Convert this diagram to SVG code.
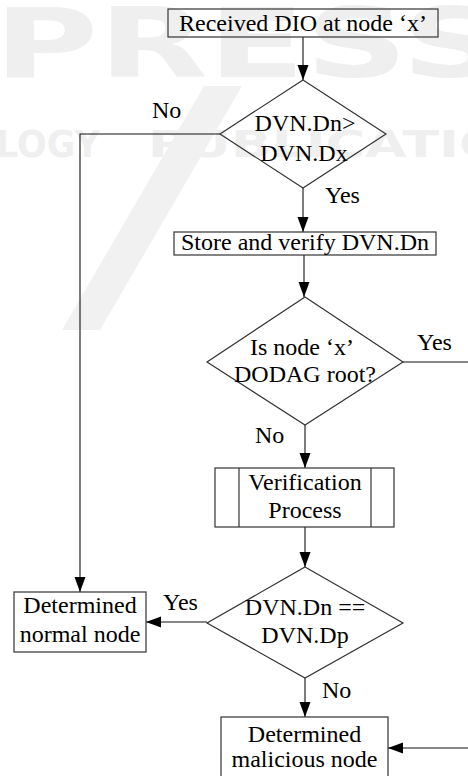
<svg xmlns="http://www.w3.org/2000/svg" width="468" height="776" viewBox="0 0 468 776">
  <defs>
    <marker id="arrow" markerUnits="userSpaceOnUse" markerWidth="16" markerHeight="12" refX="15" refY="5.5" orient="auto">
      <path d="M0,0 L15,5.5 L0,11 z" fill="#000"/>
    </marker>
    <style>
      .box { fill: none; stroke: #333; stroke-width: 1.2; }
      .edge { fill: none; stroke: #111; stroke-width: 1.1; marker-end: url(#arrow); }
      .t { font-family: "Liberation Serif", "Times New Roman", serif; font-size: 24px; fill: #000; }
      .c { text-anchor: middle; }
      .wm { font-family: "DejaVu Sans", "Liberation Sans", sans-serif; font-weight: bold; fill: #efefef; }
    </style>
  </defs>

  <rect width="468" height="776" fill="#fff"/>

  <!-- faint publisher watermark behind the chart -->
  <g id="watermark">
    <text class="wm" x="-6" y="77" font-size="96" textLength="510" lengthAdjust="spacingAndGlyphs">PRESS</text>
    <text class="wm" x="-4" y="157" font-size="37" textLength="104" lengthAdjust="spacingAndGlyphs">LOGY</text>
    <text class="wm" x="148" y="157" font-size="37" textLength="440" lengthAdjust="spacingAndGlyphs">PUBLICATIONS</text>
    <polygon points="204,86 242,86 100,330 62,330" fill="#f1f1f1"/>
  </g>

  <!-- connectors -->
  <g id="connectors">
    <path class="edge" d="M303,37 V80"/>
    <path class="edge" d="M220,134 H80 V592"/>
    <path class="edge" d="M303,188 V232"/>
    <path class="edge" d="M304,255 V297"/>
    <path class="edge" d="M403,362 H470 V748 H388"/>
    <path class="edge" d="M305,425 V468"/>
    <path class="edge" d="M305,527 V567"/>
    <path class="edge" d="M207,622 H146"/>
    <path class="edge" d="M305,678 V717"/>
    <text class="t" x="152" y="118">No</text>
    <text class="t" x="325" y="203">Yes</text>
    <text class="t" x="417" y="350">Yes</text>
    <text class="t" x="255" y="443">No</text>
    <text class="t" x="163" y="610">Yes</text>
    <text class="t" x="322" y="698">No</text>
  </g>

  <g id="start">
    <rect class="box" x="168" y="9" width="270" height="28"/>
    <text class="t c" x="303" y="31">Received DIO at node ‘x’</text>
  </g>

  <g id="check-version">
    <polygon class="box" points="303,80 386,134 303,188 220,134"/>
    <text class="t c" x="305" y="131">DVN.Dn&gt;</text>
    <text class="t c" x="304" y="161">DVN.Dx</text>
  </g>

  <g id="store">
    <rect class="box" x="174" y="232" width="262" height="23"/>
    <text class="t c" x="305" y="250">Store and verify DVN.Dn</text>
  </g>

  <g id="check-root">
    <polygon class="box" points="305,297 403,362 305,425 207,362"/>
    <text class="t c" x="302" y="355">Is node ‘x’</text>
    <text class="t c" x="305" y="382">DODAG root?</text>
  </g>

  <g id="verification">
    <rect class="box" x="215" y="468" width="179" height="59"/>
    <line class="box" x1="239" y1="468" x2="239" y2="527"/>
    <line class="box" x1="371" y1="468" x2="371" y2="527"/>
    <text class="t c" x="305" y="490">Verification</text>
    <text class="t c" x="305" y="518">Process</text>
  </g>

  <g id="check-parent">
    <polygon class="box" points="305,567 403,623 305,678 207,623"/>
    <text class="t c" x="305" y="615">DVN.Dn ==</text>
    <text class="t c" x="305" y="643">DVN.Dp</text>
  </g>

  <g id="normal">
    <rect class="box" x="14" y="592" width="132" height="60"/>
    <text class="t c" x="80" y="613">Determined</text>
    <text class="t c" x="80" y="642">normal node</text>
  </g>

  <g id="malicious">
    <rect class="box" x="221" y="717" width="167" height="64"/>
    <text class="t c" x="304.5" y="742">Determined</text>
    <text class="t c" x="304.5" y="767">malicious node</text>
  </g>
</svg>
